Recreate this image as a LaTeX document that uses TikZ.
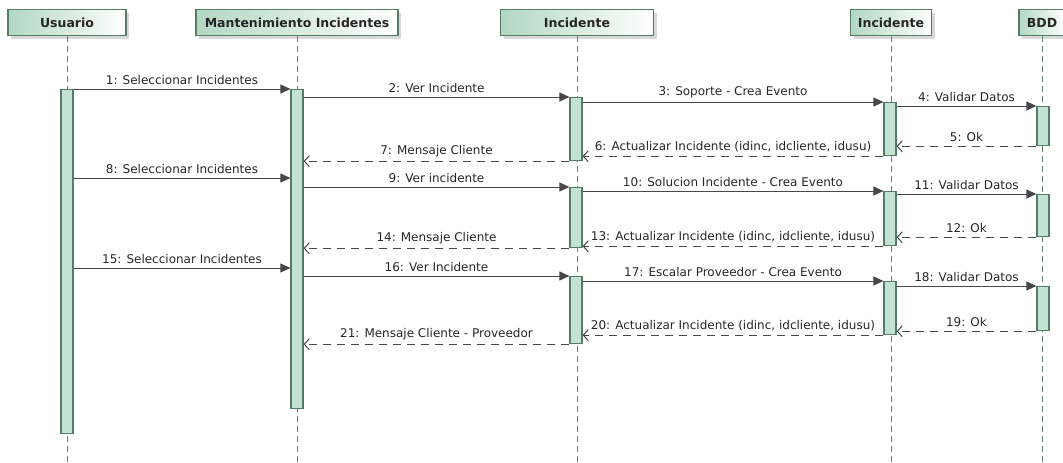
\documentclass[tikz,border=0pt]{standalone}
\usepackage{fontspec}
\setmainfont{DejaVu Sans}
\usetikzlibrary{arrows.meta,shadows}
\definecolor{barfill}{RGB}{196,226,210}
\definecolor{headfill}{RGB}{178,215,194}
\definecolor{bardraw}{RGB}{84,124,102}
\definecolor{lifec}{RGB}{96,132,114}
\definecolor{msgc}{RGB}{72,72,72}
\tikzset{
  head/.style={draw=bardraw, line width=1.2pt, left color=headfill, right color=white,
    minimum height=26pt, inner sep=0pt, text=black!85, font=\bfseries\fontsize{12.5}{14}\selectfont,
    drop shadow={shadow xshift=3pt, shadow yshift=-3pt, fill=black!30}},
  bar/.style={draw=bardraw, fill=barfill, line width=1.2pt, minimum width=12pt, inner sep=0pt, anchor=north},
  life/.style={draw=lifec, line width=0.8pt, dash pattern=on 6pt off 4pt},
  call/.style={draw=msgc, line width=1pt, -{Triangle[length=10pt,width=9pt]}},
  reply/.style={draw=msgc, line width=1pt, dash pattern=on 8pt off 6pt, -{Straight Barb[length=5pt,width=11pt]}},
  lbl/.style={midway, above=3pt, inner sep=1pt, text=black!85, font=\fontsize{12}{14}\selectfont}
}
\begin{document}
\begin{tikzpicture}[x=1pt, y=-1pt, line cap=butt, line join=miter]
    \useasboundingbox (0,0) rectangle (1063,463);
    % lifeline heads
    \foreach \n/\x/\w/\txt in {usr/67/118/Usuario, mant/297/202/Mantenimiento Incidentes,
        inc/577/153/Incidente, inc2/891/81/Incidente, bdd/1042/46/BDD}
      \node[head, minimum width=\w] (\n) at (\x,22.5) {\txt};
    \foreach \n in {usr,mant,inc,inc2,bdd} \draw[life] (\n.south) -- (\n.south |- 0,463);
    % activations
    \foreach \n/\x/\t/\b in {ua/67/89/433, ma/297/89/408, ia/576/97/160, ib/576/187/247, ic/576/276/343,
        ja/890/102/155, jb/890/191/245, jc/890/281/334, ba/1043/106/145, bb/1043/194/236, bc/1043/286/330}
      \node[bar, minimum height={(\b-\t)*1pt}] (\n) at (\x,\t) {};
    % messages
    \foreach \y/\txt in {89/{1: Seleccionar Incidentes}, 178/{8: Seleccionar Incidentes}, 268/{15: Seleccionar Incidentes}}
      \draw[call] (ua.east |- 0,\y) -- (ma.west |- 0,\y) node[lbl] {\txt};
    \foreach \a/\b/\txt in {ma/ia/{2: Ver Incidente}, ia/ja/{3: Soporte - Crea Evento}, ja/ba/{4: Validar Datos},
        ma/ib/{9: Ver incidente}, ib/jb/{10: Solucion Incidente - Crea Evento}, jb/bb/{11: Validar Datos},
        ma/ic/{16: Ver Incidente}, ic/jc/{17: Escalar Proveedor - Crea Evento}, jc/bc/{18: Validar Datos}}
      \draw[call] (\a.east |- \b.north) -- (\b.north west) node[lbl] {\txt};
    \foreach \a/\b/\txt in {ba/ja/{5: Ok}, ja/ia/{6: Actualizar Incidente (idinc, idcliente, idusu)}, ia/ma/{7: Mensaje Cliente},
        bb/jb/{12: Ok}, jb/ib/{13: Actualizar Incidente (idinc, idcliente, idusu)}, ib/ma/{14: Mensaje Cliente},
        bc/jc/{19: Ok}, jc/ic/{20: Actualizar Incidente (idinc, idcliente, idusu)}, ic/ma/{21: Mensaje Cliente - Proveedor}}
      \draw[reply] (\a.south west) -- (\b.east |- \a.south) node[lbl] {\txt};
\end{tikzpicture}
\end{document}
